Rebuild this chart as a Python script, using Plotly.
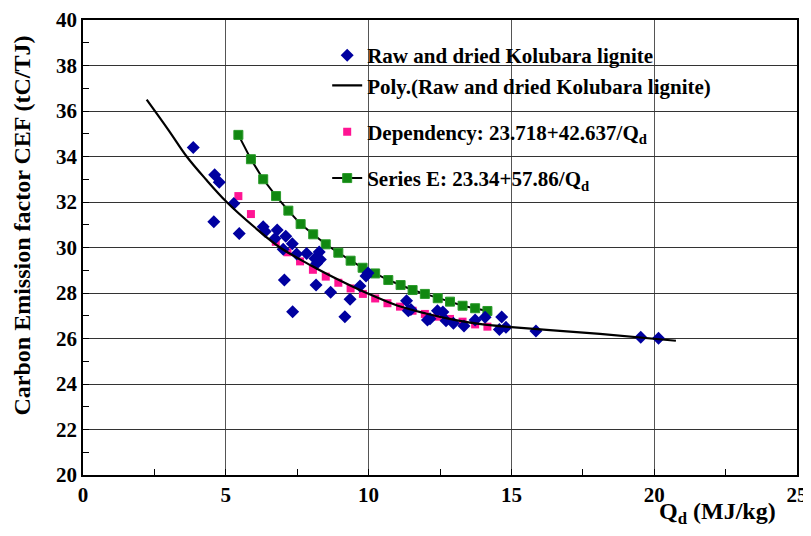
import plotly.graph_objects as go

# Raw and dried Kolubara lignite (blue diamonds)
raw_q = [3.86, 4.61, 4.77, 4.58, 5.28, 5.47, 6.31, 6.38, 6.80, 6.72, 7.10, 7.33, 7.01, 7.48,
         7.83, 8.27, 8.12, 8.31, 8.18, 7.05, 8.16, 8.67, 9.35, 9.70, 9.91, 9.98, 7.34, 9.17,
         11.33, 11.39, 11.48, 12.06, 12.15, 12.41, 12.60, 12.71, 12.97, 13.34, 13.73, 14.08,
         14.66, 14.58, 14.81, 15.86, 19.53, 20.15]
raw_cef = [34.40, 33.20, 32.87, 31.13, 31.93, 30.62, 30.91, 30.70, 30.77, 30.40, 30.50, 30.16, 29.92, 29.71,
           29.74, 29.80, 29.52, 29.47, 29.30, 28.57, 28.35, 28.03, 27.72, 28.31, 28.75, 28.88, 27.18, 26.96,
           27.66, 27.22, 27.28, 26.81, 26.87, 27.22, 27.16, 26.78, 26.67, 26.55, 26.81, 26.93,
           26.95, 26.40, 26.49, 26.33, 26.05, 26.01]

# Poly trendline
poly_q = [2.23, 3.0, 3.63, 4.3, 5.03, 6.0, 6.9, 8.0, 9.0, 9.93, 11.0, 12.0, 13.0, 14.0, 15.0, 16.35, 18.1, 20.76]
poly_cef = [36.5, 35.15, 34.0, 33.0, 32.0, 30.9, 30.0, 29.2, 28.55, 28.0, 27.45, 27.1, 26.82, 26.62, 26.5, 26.37, 26.2, 25.9]

# Dependency (pink squares)
dep_q = [5.44, 5.88, 6.32, 6.75, 7.16, 7.60, 8.05, 8.50, 8.94, 9.37, 9.80, 10.23, 10.66,
         11.10, 11.54, 11.97, 12.41, 12.85, 13.29, 13.73, 14.16]
dep_cef = [32.26, 31.47, 30.85, 30.25, 29.79, 29.39, 29.02, 28.72, 28.45, 28.20, 27.96, 27.76, 27.55,
           27.40, 27.22, 27.08, 26.96, 26.86, 26.74, 26.62, 26.52]

# Series E (green squares with black line)
se_q = [5.44, 5.88, 6.31, 6.76, 7.19, 7.62, 8.06, 8.50, 8.94, 9.37, 9.79, 10.23, 10.69,
        11.12, 11.54, 11.97, 12.42, 12.85, 13.29, 13.73, 14.16]
se_cef = [34.95, 33.88, 33.00, 32.26, 31.62, 31.03, 30.58, 30.14, 29.77, 29.42, 29.11, 28.86, 28.57,
          28.35, 28.13, 27.96, 27.77, 27.62, 27.44, 27.33, 27.21]

# Tick labels
x_ticks = [0, 5, 10, 15, 20, 25]
y_ticks = [20, 22, 24, 26, 28, 30, 32, 34, 36, 38, 40]

FONT = "Liberation Serif"

fig = go.Figure()
fig.add_trace(go.Scatter(
    x=dep_q, y=dep_cef, mode="markers", name="Dependency: 23.718+42.637/Q<sub>d</sub>",
    marker=dict(symbol="square", size=8, color="#FF1493"),
    legendgroup="c", legendrank=3))
fig.add_trace(go.Scatter(
    x=se_q, y=se_cef, mode="lines+markers", name="Series E: 23.34+57.86/Q<sub>d</sub>",
    line=dict(color="black", width=2),
    marker=dict(symbol="square", size=9, color="#118811", line=dict(color="#2a9a2a", width=1)),
    legendgroup="d", legendrank=4))
fig.add_trace(go.Scatter(
    x=raw_q, y=raw_cef, mode="markers", name="Raw and dried Kolubara lignite",
    marker=dict(symbol="diamond", size=10, color="#0000A0"),
    legendgroup="a", legendrank=1))
fig.add_trace(go.Scatter(
    x=poly_q, y=poly_cef, mode="lines", name="Poly.(Raw and dried Kolubara lignite)",
    line=dict(color="black", width=2.2, shape="spline", smoothing=1.0),
    legendgroup="a", legendrank=2))

axis_common = dict(
    showline=True, linecolor="black", linewidth=1.5, mirror=True,
    ticks="inside", ticklen=6, tickcolor="black",
    tickfont=dict(family=FONT, size=21, color="black", weight="bold"),
    zeroline=False, automargin=False,
)

fig.update_xaxes(range=[0, 25], tickmode="array", tickvals=x_ticks,
                 ticktext=[f"<b>{v}</b>" for v in x_ticks],
                 showgrid=True, gridcolor="#555555", gridwidth=1.3,
                 minor=dict(dtick=2.5, ticks="inside", ticklen=6, tickcolor="black", showgrid=False),
                 **axis_common)
fig.update_yaxes(range=[20, 40], tickmode="array", tickvals=y_ticks,
                 ticktext=[f"<b>{v}</b>" for v in y_ticks],
                 showgrid=True, gridcolor="#333333", gridwidth=1.3,
                 minor=dict(dtick=1, ticks="inside", ticklen=6, tickcolor="black", showgrid=False),
                 **axis_common)

fig.add_annotation(text="<b>Carbon Emission factor CEF (tC/TJ)</b>", xref="paper", yref="paper",
                   x=-0.085, y=0.549, xanchor="center", yanchor="middle", textangle=-90,
                   showarrow=False, font=dict(family=FONT, size=24, color="black"))
fig.add_annotation(text="<b>Q<sub>d</sub> (MJ/kg)</b>", xref="paper", yref="paper",
                   x=0.804, y=-0.083, xanchor="left", yanchor="middle",
                   showarrow=False, font=dict(family=FONT, size=24, color="black"))

fig.update_layout(
    template="none",
    width=803, height=528,
    margin=dict(l=75, r=14, t=12, b=61, autoexpand=False),
    paper_bgcolor="white", plot_bgcolor="white",
    font=dict(family=FONT, color="black", weight="bold"),
    showlegend=True,
    legend=dict(x=0.342, y=0.967, xanchor="left", yanchor="top",
                bgcolor="rgba(0,0,0,0)", traceorder="grouped", tracegroupgap=16,
                font=dict(family=FONT, size=21, color="black", weight="bold")),
)

fig.write_html("out.html")
